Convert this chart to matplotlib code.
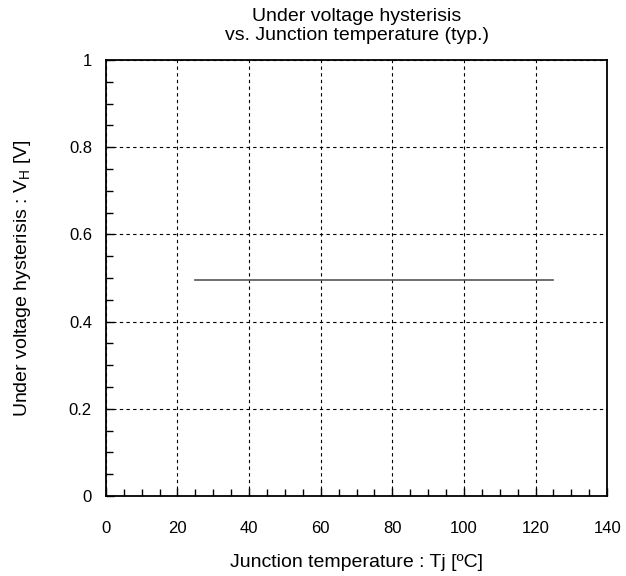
import numpy as np
import matplotlib.pyplot as plt
from matplotlib.ticker import MultipleLocator

plt.rcParams["font.family"] = ["Liberation Sans", "DejaVu Sans"]
plt.rcParams["mathtext.fontset"] = "custom"
plt.rcParams["mathtext.rm"] = "Liberation Sans"

# data
tj = [25, 125]
vh = [0.495, 0.495]

fig = plt.figure(figsize=(6.26, 5.76), dpi=100)
ax = fig.add_axes([0.169, 0.139, 0.801, 0.757])

ax.plot(tj, vh, color="#555555", linewidth=1.2)

ax.set_xlim(0, 140)
ax.set_ylim(0, 1)
ax.xaxis.set_major_locator(MultipleLocator(20))
ax.xaxis.set_minor_locator(MultipleLocator(5))
ax.yaxis.set_major_locator(MultipleLocator(0.2))
ax.yaxis.set_minor_locator(MultipleLocator(0.05))


def yfmt(v, p):
    v = round(v, 2)
    if v == 0 or v == 1:
        return f"{int(v)}"
    return f"{v:.1f}"


ax.yaxis.set_major_formatter(yfmt)

ax.tick_params(which="both", direction="in", labelsize=12, top=False, right=False)
ax.tick_params(which="major", length=6, width=1)
ax.tick_params(axis="x", which="major", pad=18)
ax.tick_params(axis="y", which="major", pad=10)
ax.tick_params(which="minor", length=5, width=1)

ax.grid(which="major", linestyle=(0, (3, 3)), color="black", linewidth=0.8)

for s in ax.spines.values():
    s.set_linewidth(1.3)

ax.set_xlabel("Junction temperature : Tj [ºC]", fontsize=14, labelpad=13)
ax.set_ylabel(r"Under voltage hysterisis : V$_{\mathregular{H}}$ [V]", fontsize=14, labelpad=26)
ax.set_title("Under voltage hysterisis\nvs. Junction temperature (typ.)", fontsize=14, pad=14)

fig.savefig("out.png", dpi=100)
